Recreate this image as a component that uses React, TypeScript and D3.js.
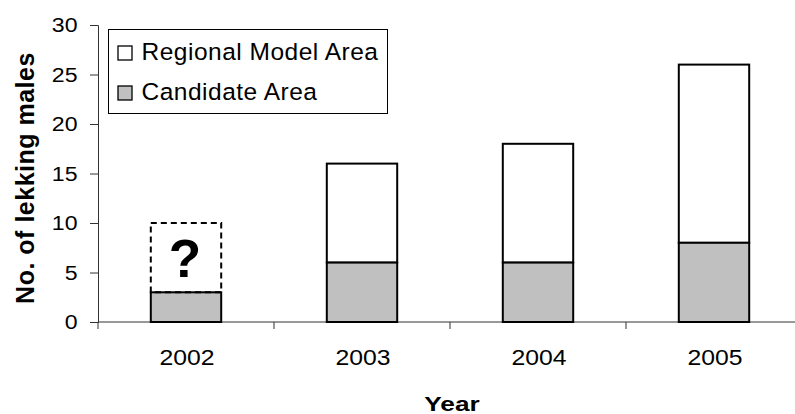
import * as d3 from 'd3';
import React, { FC, useEffect, useRef } from 'react';

const years = ['2002', '2003', '2004', '2005'];
const candidateArea = [3, 6, 6, 8];
const regionalTotal: (number | null)[] = [null, 16, 18, 26];
const uncertainYear = '2002';
const uncertainTotal = 10;
const yTicks = [0, 5, 10, 15, 20, 25, 30];
const legendLabels = ['Regional Model Area', 'Candidate Area'];
const legendFills = ['#ffffff', '#c0c0c0'];

const App: FC = (): JSX.Element => {
  const ref = useRef<SVGSVGElement>(null);

  useEffect(() => {
    const width = 795;
    const height = 414;
    const left = 98;
    const right = 802;
    const top = 25;
    const bottom = 322;

    const svg = d3.select(ref.current).attr('width', width).attr('height', height);
    svg.selectAll('*').remove();

    const font = 'Arial, "Liberation Sans", sans-serif';

    const x = d3.scaleBand<string>().domain(years).range([left, right]).padding(0);
    const y = d3.scaleLinear().domain([0, 30]).range([bottom, top]);
    const barW = x.bandwidth() * 0.4;
    const barX = (yr: string) => (x(yr) as number) + (x.bandwidth() - barW) / 2;

    // y axis
    const tickStretch = 1.1;
    const yAxis = svg
      .append('g')
      .attr('transform', `translate(${left},0)`)
      .call(d3.axisLeft(y).tickValues(yTicks).tickSize(8).tickPadding(12));
    yAxis.select('.domain').attr('stroke', '#333').attr('stroke-width', 1);
    yAxis.selectAll('.tick line').attr('stroke', '#333');
    yAxis
      .selectAll('.tick text')
      .attr('font-family', font)
      .attr('font-size', 21)
      .attr('x', -20.5 / tickStretch)
      .attr('transform', `scale(${tickStretch},1)`)
      .attr('fill', '#000');

    // x axis line and boundary ticks
    svg
      .append('line')
      .attr('x1', left)
      .attr('x2', right)
      .attr('y1', bottom)
      .attr('y2', bottom)
      .attr('stroke', '#333');
    const boundaries = years.map((yr) => x(yr) as number).concat([right]);
    svg
      .selectAll('.xtick')
      .data(boundaries)
      .enter()
      .append('line')
      .attr('x1', (d) => d)
      .attr('x2', (d) => d)
      .attr('y1', bottom)
      .attr('y2', bottom + 7)
      .attr('stroke', '#333');
    svg
      .selectAll('.xlabel')
      .data(years)
      .enter()
      .append('text')
      .attr(
        'transform',
        (d) => `translate(${(x(d) as number) + x.bandwidth() / 2 + 1},365) scale(1.11,1)`
      )
      .attr('text-anchor', 'middle')
      .attr('font-family', font)
      .attr('font-size', 22.3)
      .text((d) => d);

    // bars
    const rows = years.map((yr, i) => ({ yr, cand: candidateArea[i], total: regionalTotal[i] }));
    const g = svg.append('g');
    g.selectAll('.reg')
      .data(rows.filter((r) => r.total !== null))
      .enter()
      .append('rect')
      .attr('x', (d) => barX(d.yr))
      .attr('y', (d) => y(d.total as number))
      .attr('width', barW)
      .attr('height', (d) => y(d.cand) - y(d.total as number))
      .attr('fill', '#fff')
      .attr('stroke', '#000')
      .attr('stroke-width', 2);
    g.selectAll('.cand')
      .data(rows)
      .enter()
      .append('rect')
      .attr('x', (d) => barX(d.yr))
      .attr('y', (d) => y(d.cand))
      .attr('width', barW)
      .attr('height', (d) => y(0) - y(d.cand))
      .attr('fill', '#c0c0c0')
      .attr('stroke', '#000')
      .attr('stroke-width', 2);

    // uncertain 2002
    const ui = years.indexOf(uncertainYear);
    g.append('rect')
      .attr('x', barX(uncertainYear))
      .attr('y', y(uncertainTotal))
      .attr('width', barW)
      .attr('height', y(candidateArea[ui]) - y(uncertainTotal))
      .attr('fill', 'none')
      .attr('stroke', '#000')
      .attr('stroke-width', 2)
      .attr('stroke-dasharray', '6,4');
    g.append('text')
      .attr('x', barX(uncertainYear) + barW / 2 - 1)
      .attr('y', 277)
      .attr('text-anchor', 'middle')
      .attr('font-family', font)
      .attr('font-weight', 'bold')
      .attr('font-size', 53)
      .text('?');

    // legend
    const lg = svg.append('g');
    lg.append('rect')
      .attr('x', 108.5)
      .attr('y', 29.5)
      .attr('width', 279)
      .attr('height', 84)
      .attr('fill', '#fff')
      .attr('stroke', '#000')
      .attr('stroke-width', 1);
    legendLabels.forEach((label, i) => {
      const cy = 53 + i * 40;
      lg.append('rect')
        .attr('x', 118)
        .attr('y', cy - 7)
        .attr('width', 14)
        .attr('height', 14)
        .attr('fill', legendFills[i])
        .attr('stroke', '#000')
        .attr('stroke-width', 1.3);
      lg.append('text')
        .attr('x', 141.5)
        .attr('y', cy + 7)
        .attr('font-family', font)
        .attr('font-size', 24.5)
        .attr('letter-spacing', 0.5)
        .text(label);
    });

    // axis titles
    svg
      .append('text')
      .attr('transform', 'translate(452,411) scale(1.28,1)')
      .attr('text-anchor', 'middle')
      .attr('font-family', font)
      .attr('font-weight', 'bold')
      .attr('font-size', 20.5)
      .text('Year');
    svg
      .append('text')
      .attr('transform', `translate(34,178) rotate(-90)`)
      .attr('text-anchor', 'middle')
      .attr('font-family', font)
      .attr('font-weight', 'bold')
      .attr('font-size', 25)
      .attr('letter-spacing', 0.5)
      .text('No. of lekking males');
  }, []);

  return <svg ref={ref} style={{ position: 'absolute', left: 0, top: 0, display: 'block' }} />;
};

export default App;
